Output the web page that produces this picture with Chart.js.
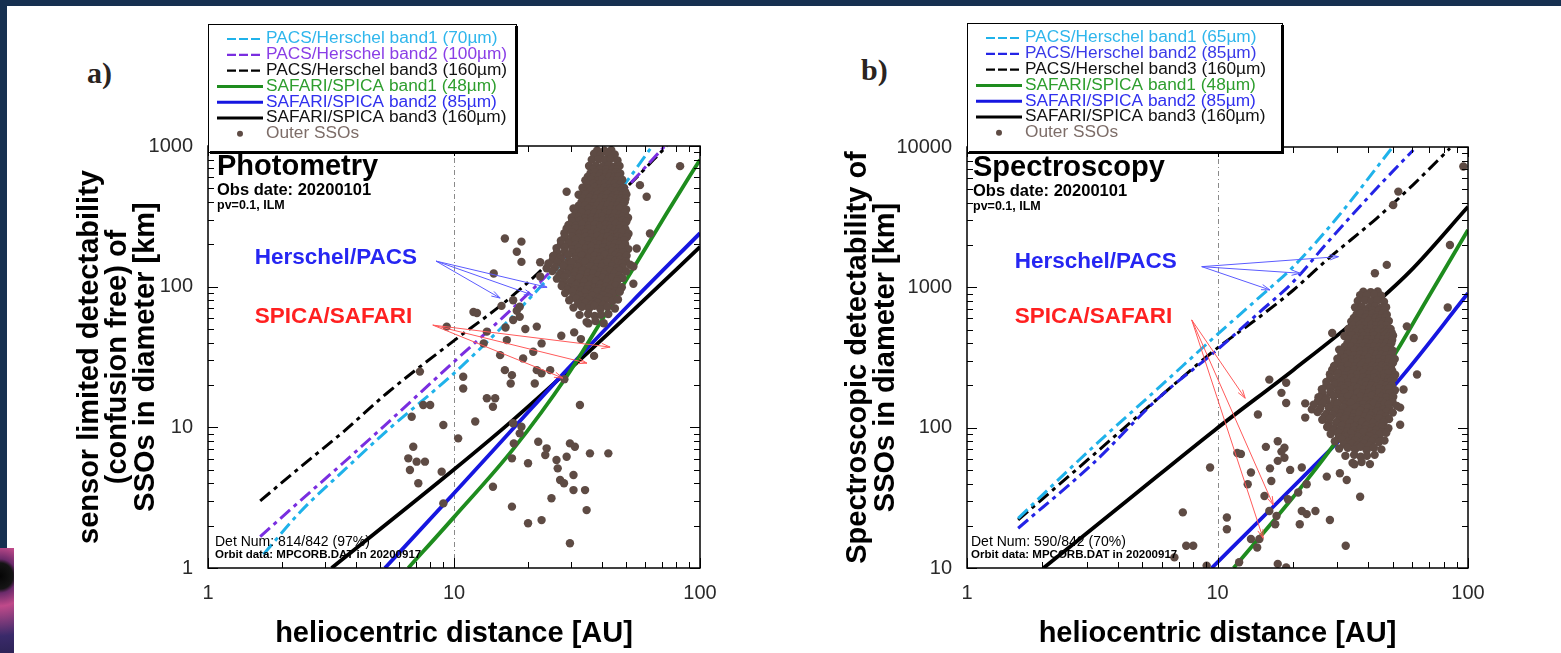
<!DOCTYPE html>
<html>
<head>
<meta charset="utf-8">
<title>Outer SSO detectability</title>
<script src="https://cdn.jsdelivr.net/npm/chart.js@4.4.1/dist/chart.umd.min.js"></script>
<style>
  html, body { margin: 0; padding: 0; background: #fff; }
  body { position: relative; width: 1561px; height: 653px; overflow: hidden; }
  .band { position: absolute; background: #163050; }
  .tag { position: absolute; font: bold 30px 'Liberation Serif', 'Times New Roman', serif; color: #2a241f; }
  canvas { position: absolute; top: 0; }
</style>
</head>
<body>
<div class="band" style="left:0;top:0;width:1561px;height:6px"></div>
<div class="band" style="left:0;top:0;width:7px;height:548px"></div>
<div style="position:absolute;left:0;top:548px;width:14px;height:105px;background:radial-gradient(circle at 0px 28px,#050505 0,#151515 13px,#6a2a6a 17px,#c04a8a 30px,#3a2a6a 60px,#1a1a3a 105px)"></div>
<div class="tag" style="left:87px;top:56px">a)</div>
<div class="tag" style="left:861px;top:53px">b)</div>
<canvas id="photometry" width="760" height="653" style="left:0"></canvas>
<canvas id="spectroscopy" width="801" height="653" style="left:760px"></canvas>
<script>
Chart.defaults.font.family = "'Liberation Sans', Arial, Helvetica, sans-serif";

const distTicks = [1, 10, 100];
const photDiamTicks = [1, 10, 100, 1000];
const specDiamTicks = [10, 100, 1000, 10000];

const photLabels = ['PACS/Herschel band1 (70µm)', 'PACS/Herschel band2 (100µm)', 'PACS/Herschel band3 (160µm)',
  'SAFARI/SPICA band1 (48µm)', 'SAFARI/SPICA band2 (85µm)', 'SAFARI/SPICA band3 (160µm)', 'Outer SSOs'];
const specLabels = ['PACS/Herschel band1 (65µm)', 'PACS/Herschel band2 (85µm)', 'PACS/Herschel band3 (160µm)',
  'SAFARI/SPICA band1 (48µm)', 'SAFARI/SPICA band2 (85µm)', 'SAFARI/SPICA band3 (160µm)', 'Outer SSOs'];

// a) photometry: heliocentric distance [AU] -> detectable diameter [km]
const photPacs1R = [1.68, 2.37, 3.55, 5.32, 9.94, 15.4, 21, 28.7, 50.4, 64];
const photPacs1D = [1.25, 2.5, 4.9, 9.4, 24, 50, 88, 160, 560, 1000];
const photPacs2R = [1.63, 2.37, 3.55, 5.32, 9.94, 15.4, 22.4, 28.7, 47.3, 72];
const photPacs2D = [1.67, 3.0, 5.6, 10.6, 29, 58, 108, 170, 450, 1000];
const photPacs3R = [1.63, 2.37, 3.55, 5.32, 9.94, 15.4, 21, 28.7, 50.4, 73.3];
const photPacs3D = [3.0, 5.2, 9.3, 17.4, 41, 73, 116, 200, 510, 1000];
const photSafari1R = [6.52, 10, 17.4, 28.7, 39.2, 53.6, 73, 100];
const photSafari1D = [1, 2.3, 7.0, 23, 55, 135, 330, 800];
const photSafari2R = [5.24, 10, 17.4, 28.7, 53.6, 100];
const photSafari2D = [1, 3.4, 9.8, 25.5, 80, 240];
const photSafari3R = [3.18, 9.94, 17.4, 33.6, 53.6, 100];
const photSafari3D = [1, 4.97, 11.3, 31.8, 68, 192];

// b) spectroscopy
const specPacs1R = [1.6, 3.19, 5.89, 9.77, 14.8, 20.1, 29.9, 49.6];
const specPacs1D = [22.6, 73, 196, 446, 859, 1406, 3105, 9790];
const specPacs2R = [1.6, 3.19, 5.89, 9.77, 14.8, 20.1, 27.3, 43.2, 60.5];
const specPacs2D = [19.2, 55.7, 166, 348, 671, 1099, 2061, 5080, 9530];
const specPacs3R = [1.6, 3.19, 5.89, 9.77, 14.8, 20.1, 27.3, 43.2, 60.5, 84.7];
const specPacs3D = [22, 63.8, 166, 358, 620, 957, 1567, 3105, 5400, 9790];
const specSafari1R = [11.6, 20.1, 28.1, 50.3, 68.4, 100];
const specSafari1D = [10, 32.2, 69.3, 320, 813, 2565];
const specSafari2R = [9.48, 16.2, 29.9, 50.3, 100];
const specSafari2D = [10, 25.9, 77.4, 196, 907];
const specSafari3R = [2.02, 4.34, 9.77, 20.1, 37.1, 58.7, 100];
const specSafari3D = [10, 30, 96.4, 258, 618, 1300, 3758];

// outer solar system objects [distance AU, diameter km], same catalogue in both panels
const outerSsos = [
  [83, 719], [28.7, 473], [30.6, 360], [32.0, 297], [60.7, 436], [57.0, 527], [28.7, 259], [31.5, 214],
  [62.6, 239], [16.1, 220], [18.8, 209], [18.0, 177], [18.8, 150], [55.3, 187], [53.6, 139], [23.8, 135],
  [14.5, 124], [22.4, 118], [53.6, 105], [12.0, 66], [12.4, 65], [9.34, 52], [17.4, 80], [18.5, 72],
  [18.5, 61], [17.4, 58], [21.7, 52], [13.6, 47.9], [16.4, 41.7], [13.2, 39.5], [15.4, 32.6], [19.1, 30.9],
  [21.0, 34.5], [22.7, 39.5], [35.2, 54.8], [16.1, 25.5], [17.2, 23.5], [21.7, 25.5], [22.7, 24.2], [24.6, 25.5],
  [21.3, 20.5], [17.0, 20.5], [7.27, 24.9], [10.9, 22.9], [10.9, 18.9], [7.5, 14.4], [8.0, 14.4], [13.6, 16.1],
  [14.7, 16.1], [14.4, 14.0], [32.5, 14.4], [6.73, 11.9], [9.05, 10.4], [12.2, 11.0], [10.4, 8.35], [17.4, 10.7],
  [18.8, 10.1], [18.5, 9.06], [17.5, 7.69], [20.0, 5.55], [22.0, 7.9], [23.8, 7.09], [23.5, 6.35], [29.6, 7.69],
  [31.0, 7.28], [35.7, 6.53], [42.4, 6.53], [28.7, 6.18], [26.1, 5.86], [26.4, 5.11], [17.2, 6.02], [6.83, 7.28],
  [6.52, 6.02], [7.05, 5.7], [7.62, 5.7], [6.62, 4.97], [8.91, 4.84], [7.16, 4.0], [27.0, 4.22], [28.0, 4.0],
  [30.6, 4.58], [30.6, 3.58], [34.1, 3.58], [14.4, 3.78], [24.9, 3.13], [17.2, 2.73], [9.05, 2.88], [34.6, 2.58],
  [20.0, 2.08], [22.7, 2.19], [29.6, 1.5], [95.8, 7260], [52.7, 4810], [50.3, 3860], [84.7, 2004], [47.4, 1445],
  [42.5, 1259], [37.1, 32.2], [32.8, 42.4], [30.8, 47.3], [27.3, 44.8], [28.1, 22.0], [22.4, 149], [18.0, 67.5],
  [16.2, 51.3], [19.5, 50], [15.6, 73],
  [38.2, 930], [40.9, 925], [43.6, 935],
  [37.1, 880], [39.5, 875], [42.3, 885], [45.0, 870],
  [36.3, 800], [38.8, 805], [41.1, 795], [43.4, 810], [46.2, 790],
  [35.4, 720], [37.7, 725], [40.2, 715], [42.6, 730], [44.8, 712], [47.1, 722],
  [36.8, 680], [39.0, 676], [41.5, 684], [44.0, 678], [46.0, 682],
  [35.9, 640], [37.3, 650], [39.4, 635], [41.6, 645], [43.2, 632], [45.5, 648], [47.4, 638],
  [35.0, 605], [37.0, 602], [38.9, 608], [41.0, 600], [42.9, 606], [44.9, 603], [46.8, 609],
  [34.2, 570], [36.1, 575], [38.3, 565], [40.1, 578], [42.2, 562], [44.3, 572], [46.1, 568], [48.3, 575],
  [34.8, 537], [36.9, 540], [38.9, 534], [41.1, 539], [43.0, 535], [45.1, 541], [47.2, 536],
  [33.3, 505], [35.2, 500], [37.4, 512], [39.2, 498], [41.0, 508], [43.1, 502], [45.2, 510], [47.3, 497], [49.1, 506],
  [33.8, 477], [35.9, 480], [37.8, 474], [39.9, 479], [41.9, 475], [43.8, 481], [45.9, 476], [47.9, 478], [49.6, 474],
  [32.1, 450], [34.3, 455], [36.2, 445], [38.4, 452], [40.3, 447], [42.1, 456], [44.4, 444], [46.3, 451], [48.2, 446], [50.2, 453],
  [33.5, 425], [35.6, 428], [37.7, 422], [39.7, 427], [41.6, 423], [43.8, 429], [45.8, 424], [47.7, 426], [49.8, 421],
  [33.0, 400], [35.1, 405], [37.2, 396], [39.1, 403], [41.3, 398], [43.2, 406], [45.1, 395], [47.2, 402], [49.4, 399],
  [32.2, 377], [34.2, 380], [36.2, 374], [38.2, 379], [40.2, 375], [42.2, 381], [44.3, 376], [46.2, 378], [48.3, 373],
  [31.2, 355], [33.4, 350], [35.3, 358], [37.1, 352], [39.3, 357], [41.2, 349], [43.4, 356], [45.3, 351], [47.1, 359], [50.1, 354],
  [31.2, 332], [33.1, 335], [35.2, 329], [37.2, 334], [39.1, 330], [41.3, 336], [43.2, 331], [45.2, 333], [47.3, 328], [49.5, 334],
  [30.1, 310], [32.2, 314], [34.1, 306], [36.3, 312], [38.2, 308], [40.1, 315], [42.3, 307], [44.2, 311], [46.1, 305], [48.4, 313], [51.0, 309],
  [30.2, 292], [32.3, 295], [34.3, 289], [36.3, 294], [38.2, 290], [40.3, 296], [42.3, 291], [44.3, 293], [46.3, 288], [48.3, 294], [50.2, 290],
  [29.2, 275], [31.3, 271], [33.2, 278], [35.4, 273], [37.3, 277], [39.2, 270], [41.4, 276], [43.1, 272], [45.4, 279], [47.3, 274], [49.2, 270],
  [29.1, 257], [31.2, 260], [33.2, 254], [35.2, 259], [37.2, 255], [39.3, 261], [41.2, 256], [43.3, 258], [45.2, 253], [47.2, 259], [49.8, 255],
  [28.1, 240], [30.2, 244], [32.3, 237], [34.2, 242], [36.1, 238], [38.3, 245], [40.2, 239], [42.4, 243], [44.1, 236], [46.2, 241], [48.1, 244], [51.2, 238],
  [28.2, 226], [30.2, 228], [32.2, 223], [34.3, 227], [36.3, 224], [38.2, 229], [40.3, 225], [42.2, 227], [44.2, 222], [46.3, 228], [48.3, 224], [50.5, 226],
  [27.2, 212], [29.3, 208], [31.1, 215], [33.3, 210], [35.2, 214], [37.4, 209], [39.1, 213], [41.3, 207], [43.3, 216], [45.1, 211], [47.4, 209], [49.3, 214],
  [27.2, 200], [29.2, 202], [31.2, 198], [33.2, 201], [35.2, 197], [37.3, 203], [39.2, 199], [41.2, 201], [43.2, 196], [45.3, 202], [47.2, 198], [49.6, 200],
  [26.1, 188], [28.2, 191], [30.3, 185], [32.1, 190], [34.3, 186], [36.2, 192], [38.1, 187], [40.4, 189], [42.2, 184], [44.3, 191], [46.1, 186], [48.3, 190], [51.1, 185],
  [26.2, 176], [28.2, 178], [30.2, 174], [32.3, 177], [34.2, 173], [36.3, 179], [38.2, 175], [40.2, 177], [42.3, 172], [44.2, 178], [46.3, 174], [48.6, 176],
  [25.3, 165], [27.1, 162], [29.1, 168], [31.4, 164], [33.1, 167], [35.3, 161], [37.2, 166], [39.3, 163], [41.1, 169], [43.4, 162], [45.2, 167], [47.1, 164], [50.3, 166],
  [25.2, 155], [27.2, 157], [29.3, 153], [31.2, 156], [33.3, 152], [35.2, 158], [37.3, 154], [39.2, 156], [41.3, 151], [43.2, 157], [45.3, 153], [47.4, 155], [50.0, 152],
  [24.2, 146], [26.3, 149], [28.3, 144], [30.1, 148], [32.4, 145], [34.1, 150], [36.4, 143], [38.2, 147], [40.3, 145], [42.1, 149], [44.2, 144], [46.4, 148], [48.2, 146], [52.0, 143],
  [25.7, 137], [27.8, 139], [29.9, 135], [31.9, 138], [33.9, 134], [35.9, 140], [37.9, 136], [39.9, 138], [42.0, 133], [44.0, 139], [46.0, 135], [48.5, 137],
  [25.1, 129], [27.3, 126], [29.4, 131], [31.2, 127], [33.2, 130], [35.1, 125], [37.3, 132], [39.4, 128], [41.2, 126], [43.3, 131], [45.3, 127], [47.2, 130], [50.1, 128],
  [26.8, 121], [28.8, 123], [30.8, 119], [32.8, 122], [34.8, 118], [36.8, 124], [38.8, 120], [40.8, 122], [42.8, 117], [44.8, 123], [47.0, 119],
  [26.2, 114], [28.1, 117], [30.4, 112], [32.3, 116], [34.4, 113], [36.3, 115], [38.4, 111], [40.2, 116], [42.4, 113], [44.1, 117], [46.3, 112], [48.4, 115],
  [27.8, 107], [29.8, 109], [31.8, 105], [33.8, 108], [35.8, 104], [37.8, 110], [39.8, 106], [41.8, 108], [43.8, 103], [46.0, 109],
  [27.4, 101], [29.2, 99], [31.3, 103], [33.4, 100], [35.2, 102], [37.1, 98], [39.2, 103], [41.4, 100], [43.2, 97], [45.4, 102], [48.1, 99],
  [29.0, 95], [31.0, 96], [33.0, 94], [35.0, 96], [37.0, 93], [39.0, 97], [41.0, 94], [43.0, 96], [45.5, 93],
  [28.3, 90], [30.3, 92], [32.2, 88], [34.2, 91], [36.4, 89], [38.3, 93], [40.1, 88], [42.3, 91], [44.3, 89], [47.2, 92],
  [30.5, 85], [32.5, 86], [34.5, 84], [36.5, 86], [38.5, 83], [40.5, 87], [42.5, 84],
  [29.4, 80], [31.4, 82], [33.3, 79], [35.3, 81], [37.4, 78], [39.3, 82], [41.3, 80], [44.1, 79], [46.4, 81],
  [32.0, 76], [34.2, 77], [36.3, 75], [38.4, 77], [40.4, 74],
  [30.6, 71], [33.1, 72], [35.4, 70], [37.2, 73], [39.4, 69], [42.1, 72], [45.1, 70],
  [32.4, 63], [35.1, 64], [37.3, 62], [39.5, 63], [42.4, 64],
  [34.6, 56], [37.6, 57], [40.6, 55]
];

function curve(label, rs, ds, color, textColor, dashed) {
  return {
    label: label,
    data: rs.map((r, i) => ({x: r, y: ds[i]})),
    showLine: true,
    borderColor: color,
    backgroundColor: color,
    borderWidth: dashed ? 3 : 3.8,
    borderDash: dashed ? [13, 5, 4, 5] : [],
    cubicInterpolationMode: 'monotone',
    pointRadius: 0,
    order: 1,
    textColor: textColor,
    dashed: dashed
  };
}

function ssoSet(label) {
  return {
    label: label,
    data: outerSsos.map(p => ({x: p[0], y: p[1]})),
    showLine: false,
    pointRadius: 4.2,
    pointBorderWidth: 0,
    pointBackgroundColor: '#5e4b44',
    borderColor: '#5e4b44',
    order: 0,
    textColor: '#7d6d68',
    dot: true
  };
}

// everything drawn inside the frame that is not data: frame, inner ticks, notes, arrows, legend box
const decorById = {
  photometry: {
    heading: 'Photometry', headDx: 9, det: 'Det Num: 814/842 (97%)',
    legend: {x: 208, y: 24, w: 308, h: 128},
    callouts: [
      {text: 'Herschel/PACS', color: '#2626f2', lineColor: '#5b5bff', at: [1.55, 160], from: [8.45, 152], to: [[15.4, 83], [20.9, 87], [23.9, 99]]},
      {text: 'SPICA/SAFARI', color: '#ff2020', lineColor: '#ff5a5a', at: [1.55, 60.8], from: [8.2, 53.3], to: [[43.1, 37.2], [34.7, 28.6], [27.7, 22.4]]}
    ]
  },
  spectroscopy: {
    heading: 'Spectroscopy', headDx: 6, det: 'Det Num: 590/842 (70%)',
    legend: {x: 207, y: 23, w: 315, h: 129},
    callouts: [
      {text: 'Herschel/PACS', color: '#2626f2', lineColor: '#5b5bff', at: [1.55, 1517], from: [8.65, 1404], to: [[16.2, 958], [21.4, 1260], [30.4, 1655]]},
      {text: 'SPICA/SAFARI', color: '#ff2020', lineColor: '#ff5a5a', at: [1.55, 618], from: [7.89, 586], to: [[12.9, 162], [16.7, 28.1], [15.2, 16.3]]}
    ]
  }
};

function logSteps(min, max) {
  const out = [];
  for (let dec = min; dec < max * 0.999; dec *= 10) {
    for (let k = 1; k < 10; k++) out.push({v: dec * k, major: k === 1});
  }
  out.push({v: max, major: true});
  return out;
}

function arrow(ctx, x0, y0, x1, y1) {
  const a = Math.atan2(y1 - y0, x1 - x0), h = 9;
  ctx.beginPath();
  ctx.moveTo(x0, y0);
  ctx.lineTo(x1, y1);
  ctx.moveTo(x1 - h * Math.cos(a - 0.3), y1 - h * Math.sin(a - 0.3));
  ctx.lineTo(x1, y1);
  ctx.lineTo(x1 - h * Math.cos(a + 0.3), y1 - h * Math.sin(a + 0.3));
  ctx.stroke();
}

const decorPlugin = {
  id: 'decor',
  beforeDatasetsDraw(chart) {
    const {ctx, chartArea: ca, scales: {x}} = chart;
    const p = Math.round(x.getPixelForValue(10)) + 0.5;
    ctx.save();
    ctx.strokeStyle = '#8a8a8a';
    ctx.lineWidth = 1;
    ctx.setLineDash([5, 3, 1, 3]);
    ctx.beginPath();
    ctx.moveTo(p, ca.top);
    ctx.lineTo(p, ca.bottom);
    ctx.stroke();
    ctx.restore();
  },
  afterDatasetsDraw(chart) {
    const {ctx, chartArea: ca, scales: {x, y}} = chart;
    const d = decorById[chart.canvas.id];
    ctx.save();

    // frame and inward ticks on all four sides
    ctx.strokeStyle = '#000';
    ctx.lineWidth = 1.5;
    ctx.strokeRect(ca.left, ca.top, ca.right - ca.left, ca.bottom - ca.top);
    ctx.lineWidth = 1;
    logSteps(x.min, x.max).forEach(t => {
      const p = Math.round(x.getPixelForValue(t.v)) + 0.5, len = t.major ? 10 : 6;
      ctx.beginPath();
      ctx.moveTo(p, ca.bottom); ctx.lineTo(p, ca.bottom - len);
      ctx.moveTo(p, ca.top); ctx.lineTo(p, ca.top + len);
      ctx.stroke();
    });
    logSteps(y.min, y.max).forEach(t => {
      const p = Math.round(y.getPixelForValue(t.v)) + 0.5, len = t.major ? 10 : 6;
      ctx.beginPath();
      ctx.moveTo(ca.left, p); ctx.lineTo(ca.left + len, p);
      ctx.moveTo(ca.right, p); ctx.lineTo(ca.right - len, p);
      ctx.stroke();
    });

    // callout arrows and their labels
    d.callouts.forEach(c => {
      const x0 = x.getPixelForValue(c.from[0]), y0 = y.getPixelForValue(c.from[1]);
      ctx.strokeStyle = c.lineColor;
      ctx.lineWidth = 1;
      c.to.forEach(t => arrow(ctx, x0, y0, x.getPixelForValue(t[0]), y.getPixelForValue(t[1])));
      ctx.fillStyle = c.color;
      ctx.font = "bold 22.5px 'Liberation Sans', Arial, sans-serif";
      ctx.textAlign = 'left';
      ctx.textBaseline = 'middle';
      ctx.fillText(c.text, x.getPixelForValue(c.at[0]), y.getPixelForValue(c.at[1]));
    });

    // in-plot notes
    ctx.fillStyle = '#000';
    ctx.textAlign = 'left';
    ctx.textBaseline = 'middle';
    ctx.font = "bold 29px 'Liberation Sans', Arial, sans-serif";
    ctx.fillText(d.heading, ca.left + d.headDx, ca.top + 21);
    ctx.font = "bold 16.5px 'Liberation Sans', Arial, sans-serif";
    ctx.fillText('Obs date: 20200101', ca.left + d.headDx, ca.top + 44);
    ctx.font = "bold 12.5px 'Liberation Sans', Arial, sans-serif";
    ctx.fillText('pv=0.1, ILM', ca.left + d.headDx, ca.top + 60);
    ctx.font = "14px 'Liberation Sans', Arial, sans-serif";
    ctx.fillText(d.det, ca.left + d.headDx - 2, ca.bottom - 26);
    ctx.font = "bold 11.5px 'Liberation Sans', Arial, sans-serif";
    ctx.fillText('Orbit data: MPCORB.DAT in 20200917', ca.left + d.headDx - 2, ca.bottom - 13);
    ctx.restore();
  },
  afterDraw(chart) {
    const ctx = chart.ctx;
    const b = decorById[chart.canvas.id].legend;
    ctx.save();
    ctx.fillStyle = '#fff';
    ctx.fillRect(b.x, b.y, b.w, b.h);
    ctx.fillStyle = '#000';
    ctx.fillRect(b.x + 2, b.y + b.h - 1, b.w, 3);
    ctx.fillRect(b.x + b.w - 1, b.y + 2, 3, b.h);
    ctx.strokeStyle = '#000';
    ctx.lineWidth = 1;
    ctx.strokeRect(b.x + 0.5, b.y + 0.5, b.w, b.h);
    ctx.font = "16px 'Liberation Sans', Arial, sans-serif";
    ctx.textAlign = 'left';
    ctx.textBaseline = 'middle';
    chart.data.datasets.forEach((ds, i) => {
      const yy = b.y + 15 + i * 15.8;
      if (ds.dot) {
        ctx.fillStyle = ds.pointBackgroundColor;
        ctx.beginPath();
        ctx.arc(b.x + 32, yy, 3, 0, Math.PI * 2);
        ctx.fill();
      } else {
        ctx.strokeStyle = ds.borderColor;
        ctx.lineWidth = ds.dashed ? 2.2 : 3;
        ctx.setLineDash(ds.dashed ? [9, 3] : []);
        ctx.beginPath();
        ctx.moveTo(b.x + (ds.dashed ? 19 : 9), yy);
        ctx.lineTo(b.x + 55, yy);
        ctx.stroke();
        ctx.setLineDash([]);
      }
      // the source legend is set a little wide, so stretch the text slightly
      ctx.save();
      ctx.translate(b.x + 58, yy);
      ctx.scale(1.08, 1);
      ctx.fillStyle = ds.textColor;
      ctx.fillText(ds.label, 0, 0);
      ctx.restore();
    });
    ctx.restore();
  }
};

function buildChart(id, cfg) {
  return new Chart(document.getElementById(id), {
    type: 'scatter',
    data: {datasets: cfg.datasets},
    options: {
      responsive: false,
      animation: false,
      events: [],
      layout: {padding: {left: 0, top: cfg.top, right: cfg.right, bottom: 0}},
      plugins: {legend: {display: false}, tooltip: {enabled: false}},
      scales: {
        x: {
          type: 'logarithmic', min: 1, max: 100,
          grid: {display: false}, border: {display: false},
          afterBuildTicks: s => { s.ticks = distTicks.map(v => ({value: v})); },
          afterFit: s => { s.height = 85; },
          ticks: {callback: v => String(v), padding: 5, maxRotation: 0, autoSkip: false, color: '#2a2a2a', font: {size: 20}},
          title: {display: true, text: 'heliocentric distance [AU]', color: '#000',
            font: {size: 29, weight: 'bold', lineHeight: 0.97}, padding: {top: 0, bottom: 5}}
        },
        y: {
          type: 'logarithmic', min: cfg.yTicks[0], max: cfg.yTicks[cfg.yTicks.length - 1],
          grid: {display: false}, border: {display: false},
          afterBuildTicks: s => { s.ticks = cfg.yTicks.map(v => ({value: v})); },
          afterFit: s => { s.width = cfg.yWidth; },
          ticks: {callback: v => String(v), padding: 7, autoSkip: false, color: '#2a2a2a', font: {size: 20}},
          title: {display: true, text: cfg.yTitle, color: '#000',
            font: {size: 29, weight: 'bold', lineHeight: 0.97}, padding: {top: cfg.yTitlePad, bottom: 0}}
        }
      }
    },
    plugins: [decorPlugin]
  });
}

buildChart('photometry', {
  top: 146, right: 60, yWidth: 208, yTitlePad: 76, yTicks: photDiamTicks,
  yTitle: ['sensor limited detectability', '(confusion free) of', 'SSOs in diameter [km]'],
  datasets: [
    curve(photLabels[0], photPacs1R, photPacs1D, '#1fb2ea', '#2fb6ec', true),
    curve(photLabels[1], photPacs2R, photPacs2D, '#7a2ee0', '#8a3ee6', true),
    curve(photLabels[2], photPacs3R, photPacs3D, '#000000', '#111111', true),
    curve(photLabels[3], photSafari1R, photSafari1D, '#1e8c1e', '#2e9e2e', false),
    curve(photLabels[4], photSafari2R, photSafari2D, '#1616e0', '#3030ee', false),
    curve(photLabels[5], photSafari3R, photSafari3D, '#000000', '#111111', false),
    ssoSet(photLabels[6])
  ]
});

buildChart('spectroscopy', {
  top: 147, right: 93, yWidth: 207, yTitlePad: 84, yTicks: specDiamTicks,
  yTitle: ['Spectroscopic detectability of', 'SSOs in diameter [km]'],
  datasets: [
    curve(specLabels[0], specPacs1R, specPacs1D, '#1fb2ea', '#2fb6ec', true),
    curve(specLabels[1], specPacs2R, specPacs2D, '#2424e6', '#3a3ae8', true),
    curve(specLabels[2], specPacs3R, specPacs3D, '#000000', '#111111', true),
    curve(specLabels[3], specSafari1R, specSafari1D, '#1e8c1e', '#2e9e2e', false),
    curve(specLabels[4], specSafari2R, specSafari2D, '#1616e0', '#3030ee', false),
    curve(specLabels[5], specSafari3R, specSafari3D, '#000000', '#111111', false),
    ssoSet(specLabels[6])
  ]
});
</script>
</body>
</html>
